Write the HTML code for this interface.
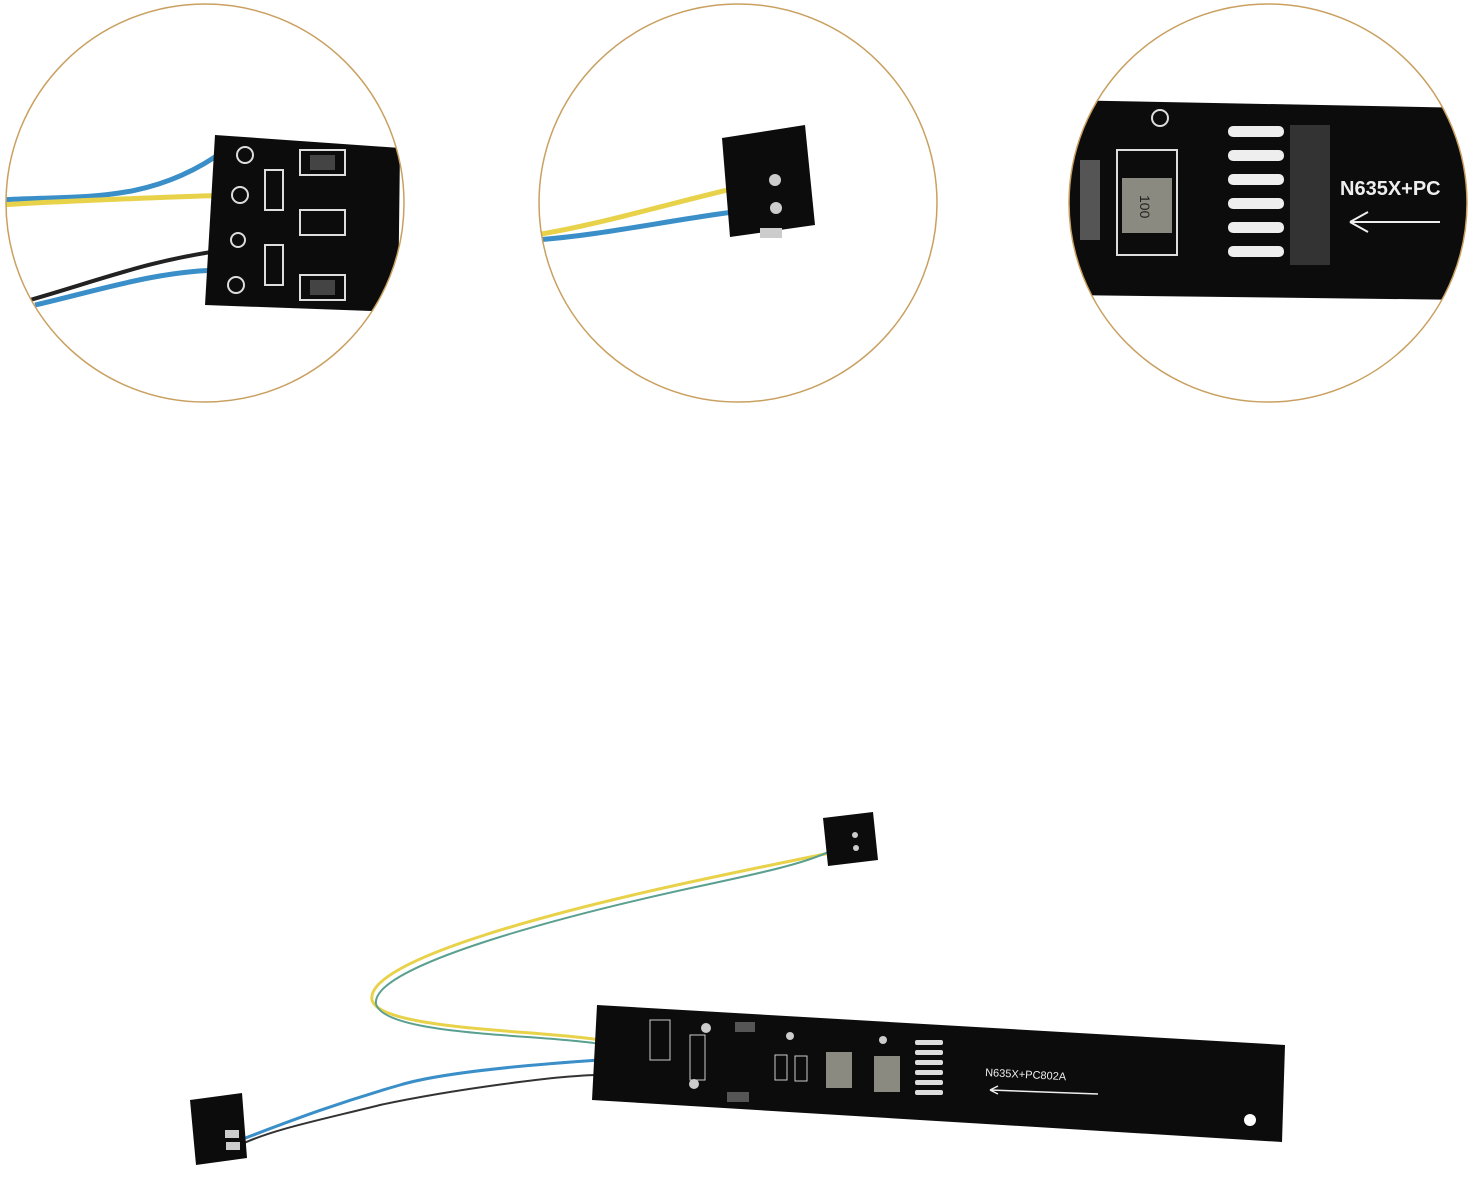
<!DOCTYPE html>
<html><head><meta charset="utf-8"><style>
html,body{margin:0;padding:0;background:#fff;}
svg{display:block;}
text{font-family:"Liberation Sans",sans-serif;}
</style></head><body>
<svg width="1475" height="1178" viewBox="0 0 1475 1178" xmlns="http://www.w3.org/2000/svg">
<defs>
<clipPath id="c1"><circle cx="205" cy="203" r="199"/></clipPath>
<clipPath id="c2"><circle cx="738" cy="203" r="199"/></clipPath>
<clipPath id="c3"><circle cx="1268" cy="203" r="199"/></clipPath>
</defs>

<!-- Circle 1 -->
<g clip-path="url(#c1)">
  <path d="M0,200 C80,195 150,205 225,150" stroke="#3a8fc8" stroke-width="5" fill="none"/>
  <path d="M0,205 C80,200 150,198 230,195" stroke="#e8d24a" stroke-width="5" fill="none"/>
  <path d="M30,300 C100,280 150,260 225,250" stroke="#222" stroke-width="4" fill="none"/>
  <path d="M35,305 C100,290 160,270 225,270" stroke="#3a8fc8" stroke-width="5" fill="none"/>
  <polygon points="215,135 400,148 398,312 205,305" fill="#0c0c0c"/>
  <g fill="none" stroke="#ddd" stroke-width="2">
    <circle cx="245" cy="155" r="8"/><circle cx="240" cy="195" r="8"/><circle cx="238" cy="240" r="7"/><circle cx="236" cy="285" r="8"/>
    <rect x="300" y="150" width="45" height="25"/><rect x="300" y="210" width="45" height="25"/><rect x="300" y="275" width="45" height="25"/>
    <rect x="265" y="170" width="18" height="40"/><rect x="265" y="245" width="18" height="40"/>
  </g>
  <rect x="310" y="155" width="25" height="15" fill="#444"/><rect x="310" y="280" width="25" height="15" fill="#444"/>
</g>
<circle cx="205" cy="203" r="199" fill="none" stroke="#c9a060" stroke-width="1.5"/>

<!-- Circle 2 -->
<g clip-path="url(#c2)">
  <path d="M535,235 C600,225 680,200 770,180" stroke="#e8d24a" stroke-width="5" fill="none"/>
  <path d="M535,240 C610,235 690,215 770,208" stroke="#3a8fc8" stroke-width="5" fill="none"/>
  <polygon points="722,138 805,125 815,225 730,237" fill="#0c0c0c"/>
  <circle cx="775" cy="180" r="6" fill="#ccc"/><circle cx="776" cy="208" r="6" fill="#ccc"/>
  <rect x="760" y="228" width="22" height="10" fill="#ccc"/>
</g>
<circle cx="738" cy="203" r="199" fill="none" stroke="#c9a060" stroke-width="1.5"/>

<!-- Circle 3 -->
<g clip-path="url(#c3)">
  <polygon points="1060,100 1475,108 1475,300 1060,295" fill="#0c0c0c"/>
  <rect x="1080" y="160" width="20" height="80" fill="#555"/>
  <rect x="1117" y="150" width="60" height="105" fill="none" stroke="#ddd" stroke-width="2"/>
  <rect x="1122" y="178" width="50" height="55" fill="#8a8a80"/>
  <text x="1135" y="210" font-size="14" fill="#222" transform="rotate(90 1145 205)">100</text>
  <g fill="#eee">
    <rect x="1228" y="126" width="56" height="11" rx="5"/><rect x="1228" y="150" width="56" height="11" rx="5"/>
    <rect x="1228" y="174" width="56" height="11" rx="5"/><rect x="1228" y="198" width="56" height="11" rx="5"/>
    <rect x="1228" y="222" width="56" height="11" rx="5"/><rect x="1228" y="246" width="56" height="11" rx="5"/>
  </g>
  <rect x="1290" y="125" width="40" height="140" fill="#333"/>
  <text x="1340" y="195" font-size="20" font-weight="bold" fill="#eee">N635X+PC</text>
  <path d="M1350,222 L1440,222 M1350,222 l18,-10 M1350,222 l18,10" stroke="#eee" stroke-width="2" fill="none"/>
  <circle cx="1160" cy="118" r="8" fill="none" stroke="#ddd" stroke-width="2"/>
</g>
<circle cx="1268" cy="203" r="199" fill="none" stroke="#c9a060" stroke-width="1.5"/>

<!-- Bottom assembly -->
<path d="M600,1040 C540,1030 380,1030 372,1000 C365,960 560,910 700,880 C770,865 820,855 845,850" stroke="#e8d24a" stroke-width="3" fill="none"/>
<path d="M600,1044 C540,1034 385,1036 376,1004 C370,966 565,915 705,885 C775,870 820,860 845,843" stroke="#5aa090" stroke-width="2" fill="none"/>
<path d="M600,1060 C570,1062 450,1070 400,1085 C330,1105 280,1125 240,1140" stroke="#3a8fc8" stroke-width="3" fill="none"/>
<path d="M600,1075 C560,1075 450,1090 380,1105 C320,1120 270,1130 240,1145" stroke="#333" stroke-width="2" fill="none"/>
<polygon points="597,1005 1285,1045 1282,1142 592,1100" fill="#0c0c0c"/>
<circle cx="1250" cy="1120" r="6" fill="#fff"/>
<g fill="#ddd">
  <rect x="915" y="1040" width="28" height="5" rx="2"/><rect x="915" y="1050" width="28" height="5" rx="2"/>
  <rect x="915" y="1060" width="28" height="5" rx="2"/><rect x="915" y="1070" width="28" height="5" rx="2"/>
  <rect x="915" y="1080" width="28" height="5" rx="2"/><rect x="915" y="1090" width="28" height="5" rx="2"/>
</g>
<rect x="826" y="1052" width="26" height="36" fill="#8a8a80"/>
<rect x="874" y="1056" width="26" height="36" fill="#8a8a80"/>
<g fill="none" stroke="#ccc" stroke-width="1">
  <rect x="775" y="1055" width="12" height="25"/><rect x="795" y="1056" width="12" height="25"/>
  <rect x="650" y="1020" width="20" height="40"/><rect x="690" y="1035" width="15" height="45"/>
</g>
<circle cx="706" cy="1028" r="5" fill="#ccc"/><circle cx="694" cy="1084" r="5" fill="#ccc"/>
<circle cx="790" cy="1036" r="4" fill="#ccc"/><circle cx="883" cy="1040" r="4" fill="#ccc"/>
<rect x="735" y="1022" width="20" height="10" fill="#555"/><rect x="727" y="1092" width="22" height="10" fill="#555"/>
<text x="985" y="1076" font-size="11" fill="#eee" transform="rotate(3 985 1076)">N635X+PC802A</text>
<path d="M990,1090 L1098,1094 M990,1090 l8,-4 M990,1090 l8,4" stroke="#eee" stroke-width="1.5" fill="none"/>
<polygon points="823,818 873,812 878,860 828,866" fill="#0c0c0c"/>
<circle cx="855" cy="835" r="3" fill="#ccc"/><circle cx="856" cy="848" r="3" fill="#ccc"/>
<polygon points="190,1100 242,1093 247,1158 196,1165" fill="#0c0c0c"/>
<rect x="225" y="1130" width="14" height="8" fill="#ccc"/><rect x="226" y="1142" width="14" height="8" fill="#ccc"/>
</svg>
</body></html>
